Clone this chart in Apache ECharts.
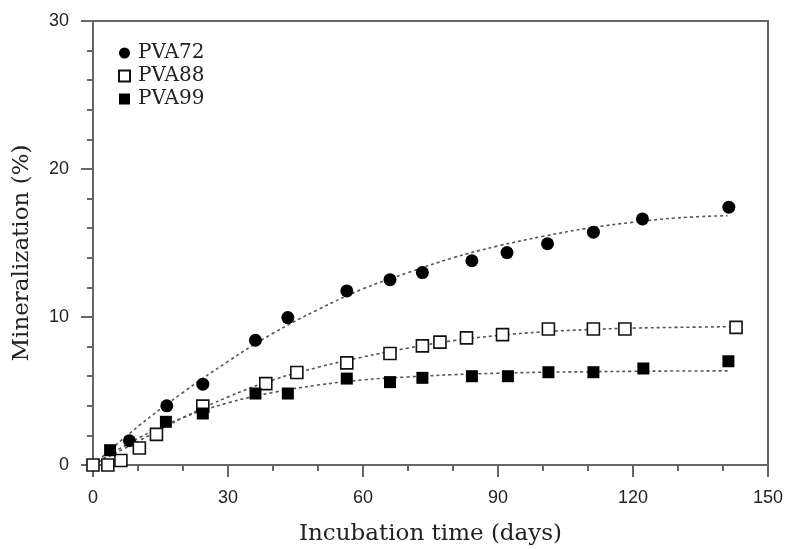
<!DOCTYPE html>
<html><head><meta charset="utf-8">
<script src="https://cdn.jsdelivr.net/npm/echarts@6/dist/echarts.min.js"></script>
<style>html,body{margin:0;padding:0;background:#fff}#c{width:787px;height:549px}</style>
</head><body><div id="c"></div>
<script>
// Measured data
const pva72 = [[8.1,1.64],[16.4,4.0],[24.4,5.46],[36.1,8.43],[43.3,9.96],[56.4,11.76],[66,12.52],[73.2,13.0],[84.2,13.8],[92.0,14.35],[101,14.95],[111.2,15.73],[122.1,16.63],[141.3,17.42]];
const pva88 = [[0,0],[3.3,0],[6.2,0.3],[10.3,1.15],[14.1,2.07],[24.4,3.98],[38.4,5.5],[45.3,6.25],[56.4,6.9],[66,7.53],[73.2,8.05],[77.1,8.3],[83,8.59],[91,8.81],[101.2,9.19],[111.2,9.19],[118.2,9.19],[142.9,9.3]];
const pva99 = [[3.8,1.0],[16.2,2.92],[24.4,3.48],[36.1,4.83],[43.3,4.83],[56.4,5.84],[66,5.6],[73.2,5.89],[84.2,6.0],[92.2,6.0],[101.2,6.27],[111.2,6.27],[122.3,6.52],[141.2,7.01]];
// Fitted curves
const fit72 = [[0,0],[10,2.6],[20,4.9],[30,7.0],[40,8.9],[50,10.5],[60,11.9],[70,13.0],[80,14.0],[90,14.8],[100,15.45],[110,16.0],[120,16.4],[130,16.7],[141,16.85]];
const fit88 = [[0,0],[10,1.6],[20,3.2],[30,4.6],[40,5.75],[50,6.6],[60,7.3],[70,7.9],[80,8.4],[90,8.75],[100,9.0],[110,9.15],[120,9.25],[130,9.3],[143,9.35]];
const fit99 = [[0,0],[10,1.8],[20,3.2],[30,4.2],[40,4.9],[50,5.4],[60,5.75],[70,5.95],[80,6.1],[90,6.2],[100,6.27],[110,6.3],[120,6.33],[130,6.35],[141,6.36]];
const xTicks = {min:0,max:150,interval:30};
const yTicks = {min:0,max:30,interval:10};

const serif = '"DejaVu Serif", serif';
const sans = '"Liberation Sans", Arial, sans-serif';
const axisCol = '#666';
const chart = echarts.init(document.getElementById('c'));
const fitStyle = {color:'#555', width:1.6, type:[3,3]};
function fitSeries(d){return {type:'line',data:d,smooth:0.4,symbol:'none',lineStyle:fitStyle,silent:true,z:1};}
chart.setOption({
  animation:false,
  grid:{left:93,right:19,top:21,bottom:84,containLabel:false,outerBoundsMode:'none',show:true,borderColor:axisCol,borderWidth:2,backgroundColor:'transparent'},
  legend:{orient:'vertical',left:113,top:38,itemGap:3,itemWidth:11,itemHeight:11,
    textStyle:{fontFamily:serif,fontSize:20,color:'#222',padding:[0,0,0,3]},
    data:['PVA72','PVA88','PVA99']},
  xAxis:{type:'value',min:xTicks.min,max:xTicks.max,interval:xTicks.interval,
    name:'Incubation time (days)',nameLocation:'middle',nameGap:58,
    nameTextStyle:{fontFamily:serif,fontSize:23,color:'#222'},
    axisLine:{show:true,lineStyle:{color:axisCol,width:2}},
    axisTick:{show:true,inside:false,length:12,lineStyle:{color:axisCol,width:2}},
    minorTick:{show:true,splitNumber:3,length:6,lineStyle:{color:axisCol,width:2}},
    splitLine:{show:false},
    axisLabel:{fontFamily:sans,fontSize:18,color:'#222',margin:24}},
  yAxis:{type:'value',min:yTicks.min,max:yTicks.max,interval:yTicks.interval,
    name:'Mineralization (%)',nameLocation:'middle',nameGap:59,
    nameTextStyle:{fontFamily:serif,fontSize:23,color:'#222',padding:[0,20,0,0]},
    axisLine:{show:true,lineStyle:{color:axisCol,width:2}},
    axisTick:{show:true,inside:false,length:12,lineStyle:{color:axisCol,width:2}},
    minorTick:{show:true,splitNumber:5,length:6,lineStyle:{color:axisCol,width:2}},
    splitLine:{show:false},
    axisLabel:{fontFamily:sans,fontSize:18,color:'#222',margin:24}},
  series:[
    fitSeries(fit72),fitSeries(fit88),fitSeries(fit99),
    {name:'PVA72',type:'scatter',data:pva72,symbol:'circle',symbolSize:13,itemStyle:{color:'#000',opacity:1},z:3},
    {name:'PVA88',type:'scatter',data:pva88,symbol:'rect',symbolSize:12,itemStyle:{color:'#fff',borderColor:'#111',borderWidth:1.6,opacity:1},z:3},
    {name:'PVA99',type:'scatter',data:pva99,symbol:'rect',symbolSize:12,itemStyle:{color:'#000',opacity:1},z:3}
  ]
});
</script></body></html>
